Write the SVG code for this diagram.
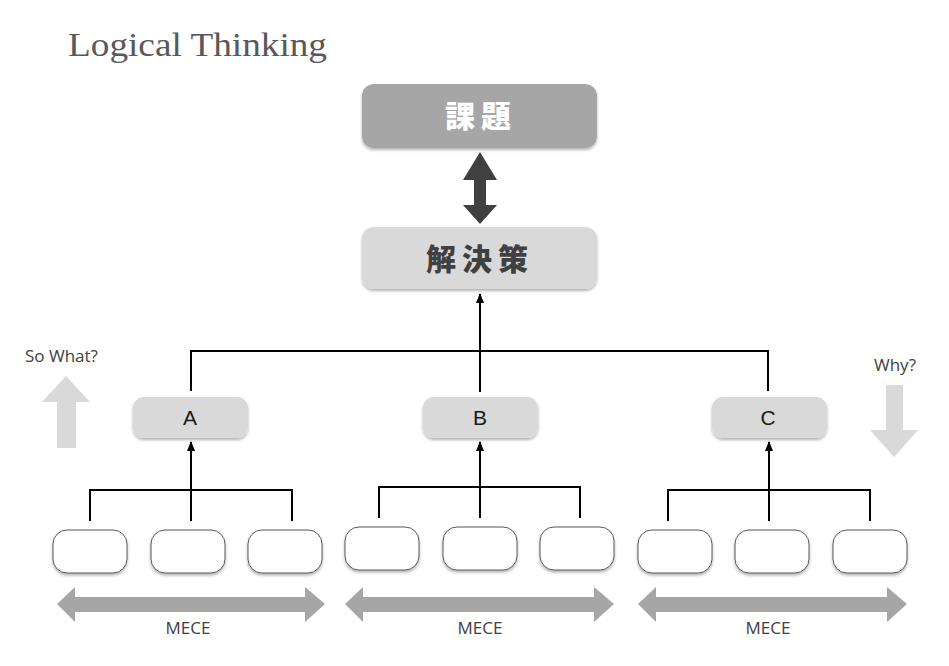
<svg xmlns="http://www.w3.org/2000/svg" width="949" height="666" viewBox="0 0 949 666">
<defs>
<filter id="sh" x="-20%" y="-20%" width="140%" height="150%">
<feDropShadow dx="0" dy="2" stdDeviation="1.5" flood-color="#000" flood-opacity="0.3"/>
</filter>
<marker id="ah" viewBox="0 0 10 10" refX="9" refY="5" markerWidth="10" markerHeight="10" markerUnits="userSpaceOnUse" orient="auto">
<path d="M0,1 L10,5 L0,9 z" fill="#000"/>
</marker>
<style>
.gbox{fill:#d9d9d9;filter:url(#sh)}
.dbox{fill:#a6a6a6;filter:url(#sh)}
.wbox{fill:#fff;stroke:#595959;stroke-width:1;filter:url(#sh)}
.line{fill:none;stroke:#000;stroke-width:2}
.arr{fill:none;stroke:#000;stroke-width:2;marker-end:url(#ah)}
.lbl{font-family:"Liberation Sans",Arial,sans-serif;font-size:21px;fill:#1a1a1a;text-anchor:middle}
.sm{font-family:"Open Sans","Noto Sans",sans-serif;font-size:17px;fill:#404040}
.jp{font-family:"Noto Sans CJK JP",sans-serif;font-weight:900;font-size:30px;text-anchor:middle;letter-spacing:6px}
</style>
</defs>
<rect width="949" height="666" fill="#fff"/>
<text x="68" y="56" font-family="Liberation Serif,serif" font-size="33" fill="#595959" textLength="259" lengthAdjust="spacingAndGlyphs">Logical Thinking</text>

<g id="kadai"><rect class="dbox" x="362" y="84" width="235" height="64" rx="12"/><text class="jp" x="481" y="127" fill="#fff">課題</text></g>
<g id="double-arrow"><path d="M480,152 L497,180 L486,180 L486,205 L497,205 L480,224 L463,205 L474,205 L474,180 L463,180 Z" fill="#404040"/></g>
<g id="kaiketsu"><rect class="gbox" x="362" y="227" width="235" height="62" rx="12"/><text class="jp" x="480" y="270" fill="#404040">解決策</text></g>

<g id="A"><rect class="gbox" x="133" y="397" width="115" height="41" rx="11"/><text class="lbl" x="190" y="425">A</text></g>
<g id="B"><rect class="gbox" x="423" y="397" width="115" height="41" rx="11"/><text class="lbl" x="480" y="425">B</text></g>
<g id="C"><rect class="gbox" x="712" y="397" width="115" height="41" rx="11"/><text class="lbl" x="768" y="425">C</text></g>

<g id="a1"><rect class="wbox" x="53" y="530" width="74" height="43" rx="14"/></g>
<g id="a2"><rect class="wbox" x="151" y="530" width="74" height="43" rx="14"/></g>
<g id="a3"><rect class="wbox" x="248" y="530" width="74" height="43" rx="14"/></g>
<g id="b1"><rect class="wbox" x="345" y="527" width="74" height="43" rx="14"/></g>
<g id="b2"><rect class="wbox" x="443" y="527" width="74" height="43" rx="14"/></g>
<g id="b3"><rect class="wbox" x="540" y="527" width="74" height="43" rx="14"/></g>
<g id="c1"><rect class="wbox" x="638" y="530" width="74" height="43" rx="14"/></g>
<g id="c2"><rect class="wbox" x="735" y="530" width="74" height="43" rx="14"/></g>
<g id="c3"><rect class="wbox" x="833" y="530" width="74" height="43" rx="14"/></g>

<g id="connectors">
<path class="line" d="M191,391 L191,351 L768,351 L768,391"/>
<path class="arr" d="M480,392 L480,294"/>
<path class="line" d="M90,521 L90,490 L292,490 L292,521"/>
<path class="arr" d="M191,521 L191,442"/>
<path class="line" d="M379,518 L379,487 L580,487 L580,518"/>
<path class="arr" d="M480,518 L480,442"/>
<path class="line" d="M668,521 L668,490 L870,490 L870,521"/>
<path class="arr" d="M769,521 L769,442"/>
</g>

<g id="mece">
<path d="M57,604 L75,587 L75,597 L305,597 L305,587 L325,604 L305,622 L305,612 L75,612 L75,622 Z" fill="#a6a6a6"/>
<path d="M345,604 L363,587 L363,597 L594,597 L594,587 L614,604 L594,622 L594,612 L363,612 L363,622 Z" fill="#a6a6a6"/>
<path d="M638,604 L656,587 L656,597 L887,597 L887,587 L907,604 L887,622 L887,612 L656,612 L656,622 Z" fill="#a6a6a6"/>
<text class="sm" x="188" y="634" text-anchor="middle">MECE</text>
<text class="sm" x="480" y="634" text-anchor="middle">MECE</text>
<text class="sm" x="768" y="634" text-anchor="middle">MECE</text>
</g>

<g id="sowhat">
<text class="sm" x="25" y="362">So What?</text>
<path d="M66,376 L90,402 L76,402 L76,448 L57,448 L57,402 L42,402 Z" fill="#d9d9d9"/>
</g>
<g id="why">
<text class="sm" x="874" y="371">Why?</text>
<path d="M886,385 L903,385 L903,430 L918,430 L894,457 L870,430 L886,430 Z" fill="#d9d9d9"/>
</g>
</svg>
